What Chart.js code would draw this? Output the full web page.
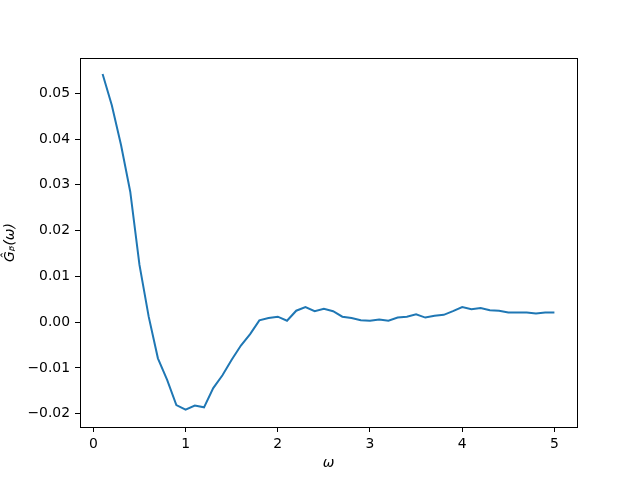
<!DOCTYPE html>
<html>
<head>
<meta charset="utf-8">
<script src="https://cdn.jsdelivr.net/npm/chart.js@4"></script>
<style>
html,body{margin:0;padding:0;background:#fff;}
#wrap{width:640px;height:480px;}
</style>
</head>
<body>
<div id="wrap"><canvas id="c" width="640" height="480"></canvas></div>
<script>
const omega = [0.1,0.2,0.3,0.4,0.5,0.6,0.7,0.8,0.9,1.0,
               1.1,1.2,1.3,1.4,1.5,1.6,1.7,1.8,1.9,2.0,
               2.1,2.2,2.3,2.4,2.5,2.6,2.7,2.8,2.9,3.0,
               3.1,3.2,3.3,3.4,3.5,3.6,3.7,3.8,3.9,4.0,
               4.1,4.2,4.3,4.4,4.5,4.6,4.7,4.8,4.9,5.0];
const G = [0.0542,0.0474,0.0387,0.0285,0.0125,0.0012,-0.0079,-0.0126,-0.0181,-0.0191,
           -0.0182,-0.0186,-0.0144,-0.0116,-0.0082,-0.0051,-0.0026,0.0004,0.0009,0.0012,
           0.0003,0.0025,0.0033,0.0024,0.0029,0.0024,0.0012,0.0009,0.0004,0.0003,
           0.0006,0.0003,0.0010,0.0012,0.0017,0.0010,0.0014,0.0016,0.0024,0.0033,
           0.0028,0.0031,0.0026,0.0025,0.0021,0.0021,0.0021,0.0019,0.0021,0.0021];
const xTicks = [0,1,2,3,4,5];
const yTicks = [-0.02,-0.01,0.00,0.01,0.02,0.03,0.04,0.05];
const xLabel = 'ω';
const yLabel = 'Ĝᵦ(ω)';

const frame = {
  id:'frame',
  afterDraw(chart){
    const a = chart.chartArea, ctx = chart.ctx;
    ctx.save();
    ctx.strokeStyle = '#000';
    ctx.lineWidth = 1;
    ctx.strokeRect(Math.round(a.left)+0.5, Math.round(a.top)+0.5, Math.round(a.right-a.left), Math.round(a.bottom-a.top));
    ctx.restore();
  }
};

const tickFont = {family:'DejaVu Sans', size:13.9};
new Chart(document.getElementById('c'), {
  type:'line',
  data:{
    datasets:[{
      data: omega.map((x,i)=>({x:x, y:G[i]})),
      borderColor:'#1f77b4',
      borderWidth:2,
      pointRadius:0,
      tension:0,
      fill:false
    }]
  },
  options:{
    responsive:false,
    animation:false,
    devicePixelRatio:1,
    layout:{padding:{top:58,right:63,left:0,bottom:0}},
    plugins:{legend:{display:false},tooltip:{enabled:false}},
    scales:{
      x:{
        type:'linear',
        min:-0.145, max:5.245,
        afterBuildTicks(s){ s.ticks = xTicks.map(v=>({value:v})); },
        afterFit(s){ s.height = 53; },
        grid:{display:true, drawOnChartArea:false, drawTicks:true, tickLength:5, color:'#000'},
        border:{display:true, color:'#000', width:1},
        ticks:{color:'#000', font:tickFont, padding:4, maxRotation:0, callback:v=>String(v)},
        title:{display:true, text:xLabel, color:'#000', font:{family:'DejaVu Sans', size:13.9, style:'italic'}, padding:{top:0,bottom:8}}
      },
      y:{
        type:'linear',
        min:-0.0229, max:0.0577,
        afterBuildTicks(s){ s.ticks = yTicks.map(v=>({value:v})); },
        afterFit(s){ s.width = 80; },
        grid:{display:true, drawOnChartArea:false, drawTicks:true, tickLength:5, color:'#000'},
        border:{display:true, color:'#000', width:1},
        ticks:{color:'#000', font:tickFont, padding:5, callback:v=>(v<0?'\u2212':'')+Math.abs(v).toFixed(2)},
        title:{display:true, text:yLabel, color:'#000', font:{family:'DejaVu Sans', size:13.9, style:'italic'}, padding:{top:2,bottom:0}}
      }
    }
  },
  plugins:[frame]
});
</script>
</body>
</html>
